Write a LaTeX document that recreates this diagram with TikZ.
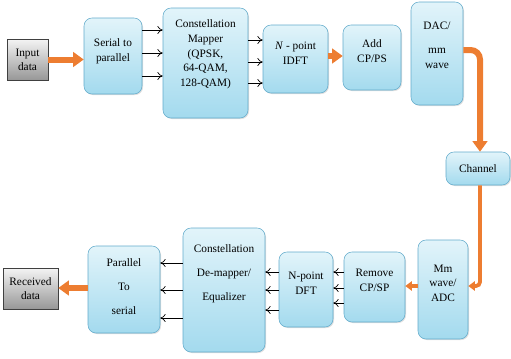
\documentclass[tikz,border=0pt]{standalone}
\usepackage{fontspec}
\setmainfont{Liberation Serif}
\usetikzlibrary{arrows.meta}
\usetikzlibrary{shadows}

\definecolor{boxtop}{HTML}{E2F4FA}
\definecolor{boxbot}{HTML}{A3DAEE}
\definecolor{boxline}{HTML}{62ABCB}
\definecolor{greytop}{HTML}{F4F4F4}
\definecolor{greybot}{HTML}{979797}
\definecolor{orangeflow}{HTML}{ED7D31}

\tikzset{
  blkbox/.style={draw=boxline, rounded corners=6pt, top color=boxtop, bottom color=boxbot,
    align=center, inner sep=1pt, font=\fontsize{8.5}{11}\selectfont,
    drop shadow={opacity=0.25, shadow xshift=0.8pt, shadow yshift=-0.8pt}},
  iobox/.style={draw=black!75, top color=greytop, bottom color=greybot, align=center,
    inner sep=1pt, font=\fontsize{8.5}{10.5}\selectfont,
    drop shadow={opacity=0.3, shadow xshift=0.8pt, shadow yshift=-0.8pt}},
  sig/.style={-{To[length=4pt,width=6pt]}, black, line width=0.5pt},
  flow/.style={-{Triangle[length=8pt,width=11pt]}, orangeflow, line width=4.5pt},
  thinflow/.style={-{Triangle[length=5pt,width=7pt]}, orangeflow, line width=2.8pt},
}

\begin{document}
\begin{tikzpicture}[x=0.75pt,y=0.75pt,yscale=-1,xscale=1]
\useasboundingbox (0,0) rectangle (511,358);

%Transmitter row
\node [iobox, minimum width=30.75pt, minimum height=30.75pt] (indata) at (27.5,59.5) {Input\\data};
\node [blkbox, minimum width=43.5pt, minimum height=57pt, text depth=8.5pt] (sertopar) at (113,56) {Serial to\\parallel};
\node [blkbox, minimum width=63.75pt, minimum height=82.5pt, text depth=14.5pt] (mapper) at (205.5,63) {Constellation\\Mapper\\(QPSK,\\64-QAM,\\128-QAM)};
\node [blkbox, minimum width=48.75pt, minimum height=51pt, text depth=8.5pt] (idft) at (295.5,59) {\textit{N} - point\\IDFT};
\node [blkbox, minimum width=43.5pt, minimum height=48.75pt, text depth=10pt] (addcp) at (372,57.5) {Add\\CP/PS};
\node [blkbox, minimum width=39pt, minimum height=77.25pt, text depth=12.5pt] (dac) at (437,53.5) {DAC/\\[7pt]mm\\wave};

%Channel
\node [blkbox, minimum width=48pt, minimum height=24.75pt] (channel) at (478,168.5) {Channel};

%Receiver row
\node [blkbox, minimum width=37.5pt, minimum height=74.25pt, text depth=9.5pt] (mmadc) at (443,289.5) {Mm\\wave/\\ADC};
\node [blkbox, minimum width=45.75pt, minimum height=52.5pt, text depth=10pt] (remcp) at (374.5,287) {Remove\\CP/SP};
\node [blkbox, minimum width=40.5pt, minimum height=56.25pt, text depth=9.5pt] (dft) at (306,289.5) {N-point\\DFT};
\node [blkbox, minimum width=61.5pt, minimum height=93pt, text depth=26.5pt] (demap) at (224,290) {Constellation\\[7pt]De-mapper/\\[7pt]Equalizer};
\node [blkbox, minimum width=54pt, minimum height=65.25pt, text depth=4.5pt] (partoser) at (124,289.5) {Parallel\\[7pt]To\\[7pt]serial};
\node [iobox, minimum width=41.25pt, minimum height=30.75pt] (outdata) at (30.5,288.5) {Received\\data};

%Orange flow
\draw [flow] (indata.east) -- (sertopar.west |- indata.east);
\draw [flow] (idft.east |- 0,56) -- (addcp.west |- 0,56);
\draw [flow, rounded corners=7pt] (dac.east |- 0,50) -- (480,50) -- (channel.north -| 480,0);
\draw [thinflow, rounded corners=3pt] (channel.south -| 480,0) -- (480,286) -- (mmadc.east |- 0,286);
\draw [thinflow] (mmadc.west |- 0,286) -- (remcp.east |- 0,286);
\draw [flow] (partoser.west |- 0,288) -- (outdata.east |- 0,288);

%Parallel streams
\foreach \y in {30,53,76} \draw [sig] (sertopar.east |- 0,\y) -- (mapper.west |- 0,\y);
\foreach \y in {40,62,83} \draw [sig] (mapper.east |- 0,\y) -- (idft.west |- 0,\y);
\foreach \y in {272,288,303} \draw [sig] (remcp.west |- 0,\y) -- (dft.east |- 0,\y);
\foreach \y in {272,290,310} \draw [sig] (dft.west |- 0,\y) -- (demap.east |- 0,\y);
\foreach \y in {263,290,318} \draw [sig] (demap.west |- 0,\y) -- (partoser.east |- 0,\y);

\end{tikzpicture}
\end{document}
